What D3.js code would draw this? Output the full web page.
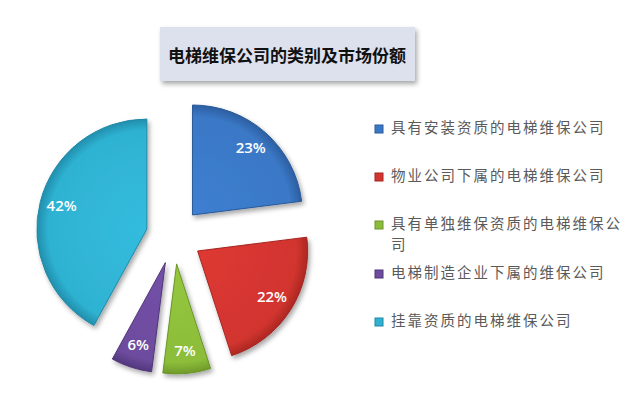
<!DOCTYPE html>
<html>
<head>
<meta charset="utf-8">
<script src="https://cdn.jsdelivr.net/npm/d3@7"></script>
<style>
  body { margin: 0; background: #fff; }
  svg { display: block; }
</style>
</head>
<body>
<svg id="chart" width="640" height="401"></svg>
<script>
const title = "电梯维保公司的类别及市场份额";
const categories = [
  "具有安装资质的电梯维保公司",
  "物业公司下属的电梯维保公司",
  "具有单独维保资质的电梯维保公司",
  "电梯制造企业下属的维保公司",
  "挂靠资质的电梯维保公司",
];
const shares = [23, 22, 7, 6, 42];
const colors = ["#3a78c6", "#d2352f", "#8cbd3a", "#6d4c9e", "#2fb2d2"];
const darkColors = ["#2a5a9a", "#a62520", "#6a9428", "#4e3478", "#1f88a6"];

const svg = d3.select("#chart");
const width = +svg.attr("width");
const height = +svg.attr("height");

const defs = svg.append("defs");

const shadow = defs.append("filter").attr("id", "shadow")
  .attr("x", "-20%").attr("y", "-20%").attr("width", "140%").attr("height", "140%");
shadow.append("feGaussianBlur").attr("in", "SourceAlpha").attr("stdDeviation", 2.5);
shadow.append("feOffset").attr("dx", 2).attr("dy", 3).attr("result", "blur");
shadow.append("feComponentTransfer").append("feFuncA").attr("type", "linear").attr("slope", 0.35);
const merge = shadow.append("feMerge");
merge.append("feMergeNode");
merge.append("feMergeNode").attr("in", "SourceGraphic");

colors.forEach((c, i) => {
  const g = defs.append("radialGradient").attr("id", `grad${i}`)
    .attr("gradientUnits", "userSpaceOnUse")
    .attr("cx", 0).attr("cy", 0).attr("r", 112);
  g.append("stop").attr("offset", "0%").attr("stop-color", d3.color(c).brighter(0.15));
  g.append("stop").attr("offset", "88%").attr("stop-color", c);
  g.append("stop").attr("offset", "100%").attr("stop-color", darkColors[i]);
});

// title box
const titleG = svg.append("g");
titleG.append("rect")
  .attr("x", 160).attr("y", 27).attr("width", 255).attr("height", 54)
  .attr("fill", "#dde1ee")
  .attr("filter", "url(#shadow)");
titleG.append("text")
  .attr("x", 287).attr("y", 57)
  .attr("text-anchor", "middle").attr("dominant-baseline", "middle")
  .attr("font-family", "'Noto Sans CJK SC', sans-serif")
  .attr("font-weight", "bold").attr("font-size", 17)
  .attr("fill", "#111")
  .text(title);

// pie
const cx = 174, cy = 236, radius = 110, explode = 28;
const pie = d3.pie().sort(null).value((d) => d)(shares);
const arc = d3.arc().innerRadius(0).outerRadius(radius);
const labelArc = d3.arc().innerRadius(88).outerRadius(88);

const pieG = svg.append("g").attr("transform", `translate(${cx},${cy})`);
const slice = pieG.selectAll("g.slice").data(pie).join("g")
  .attr("class", "slice")
  .attr("transform", (d) => {
    const a = (d.startAngle + d.endAngle) / 2;
    return `translate(${Math.sin(a) * explode},${-Math.cos(a) * explode})`;
  });

slice.append("path")
  .attr("d", arc)
  .attr("fill", (d, i) => `url(#grad${i})`)
  .attr("stroke", (d, i) => darkColors[i])
  .attr("stroke-width", 1)
  .attr("stroke-linejoin", "round")
  .attr("filter", "url(#shadow)");

slice.append("text")
  .attr("transform", (d) => `translate(${labelArc.centroid(d)})`)
  .attr("text-anchor", "middle").attr("dominant-baseline", "middle")
  .attr("font-family", "'Open Sans', 'DejaVu Sans', sans-serif")
  .attr("font-weight", 600).attr("font-size", 15)
  .attr("fill", "#fff")
  .text((d) => `${d.data}%`);

// legend
const legendRows = [
  [categories[0]],
  [categories[1]],
  [categories[2].slice(0, 14), categories[2].slice(14)],
  [categories[3]],
  [categories[4]],
];
const legendY = [129, 177, 225, 274, 322];
const legendG = svg.append("g");
legendRows.forEach((lines, i) => {
  const g = legendG.append("g").attr("transform", `translate(375,${legendY[i]})`);
  g.append("rect")
    .attr("x", 0).attr("y", -4).attr("width", 8).attr("height", 8)
    .attr("fill", colors[i]).attr("stroke", darkColors[i]).attr("stroke-width", 1);
  lines.forEach((t, j) => {
    g.append("text")
      .attr("x", 16).attr("y", j * 21)
      .attr("dominant-baseline", "middle")
      .attr("font-family", "'Noto Sans CJK SC', sans-serif")
      .attr("font-size", 14.5)
      .attr("letter-spacing", 2)
      .attr("fill", "#5a5a5a")
      .text(t);
  });
});
</script>
</body>
</html>
